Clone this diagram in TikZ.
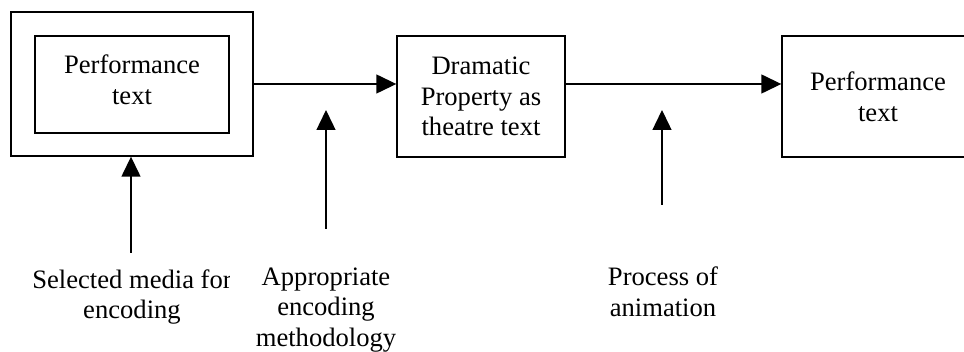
\documentclass[tikz,border=0pt]{standalone}
\usepackage{fontspec}
\setmainfont{Liberation Serif}
\usetikzlibrary{arrows.meta}

\tikzset{
	box/.style={draw, line width=1.4pt, rectangle, align=center, inner sep=0pt},
	lbl/.style={align=center, inner sep=0pt},
	flow/.style={line width=1.4pt, -{Triangle[length=20pt,width=19pt]}},
}

\begin{document}
\begin{tikzpicture}[x=1pt, y=-1pt, font=\fontsize{26.6}{30.6}\selectfont]
	\useasboundingbox (0,0) rectangle (964,352);

	\node[box, minimum width=242pt, minimum height=144pt] (outer) at (132,84) {};
	\node[box, minimum width=194pt, minimum height=97pt] (inner) at (132,84.5) {};
	\node[lbl] (innertxt) at (inner.center) [yshift=5pt] {Performance\\text};
	\node[box, minimum width=168pt, minimum height=121pt] (drama) at (481,96.5) {Dramatic\\Property as\\theatre text};
	\node[box, minimum width=192pt, minimum height=121pt] (perf) at (878,96.5) {Performance\\text};

	\draw[flow] (outer.east) -- (outer.east -| drama.west);
	\draw[flow] (drama.east |- outer.east) -- (perf.west |- outer.east);

	% labels under the chain
	\begin{scope}
		\clip (0,255) rectangle (229,352);
		\node[lbl] (media) at (132,297) {Selected media for\\encoding};
	\end{scope}
	\node[lbl] (method) at (326,310) {Appropriate\\encoding\\methodology};
	\node[lbl] (anim) at (663,292) {Process of\\animation};

	\coordinate (m1) at (131,253);
	\coordinate (m2) at (326,229);
	\coordinate (m2t) at (326,110);
	\coordinate (m3) at (662,205);
	\coordinate (m3t) at (662,110);

	\draw[flow] (m1) -- (m1 |- outer.south);
	\draw[flow] (m2) -- (m2t);
	\draw[flow] (m3) -- (m3t);
\end{tikzpicture}
\end{document}
